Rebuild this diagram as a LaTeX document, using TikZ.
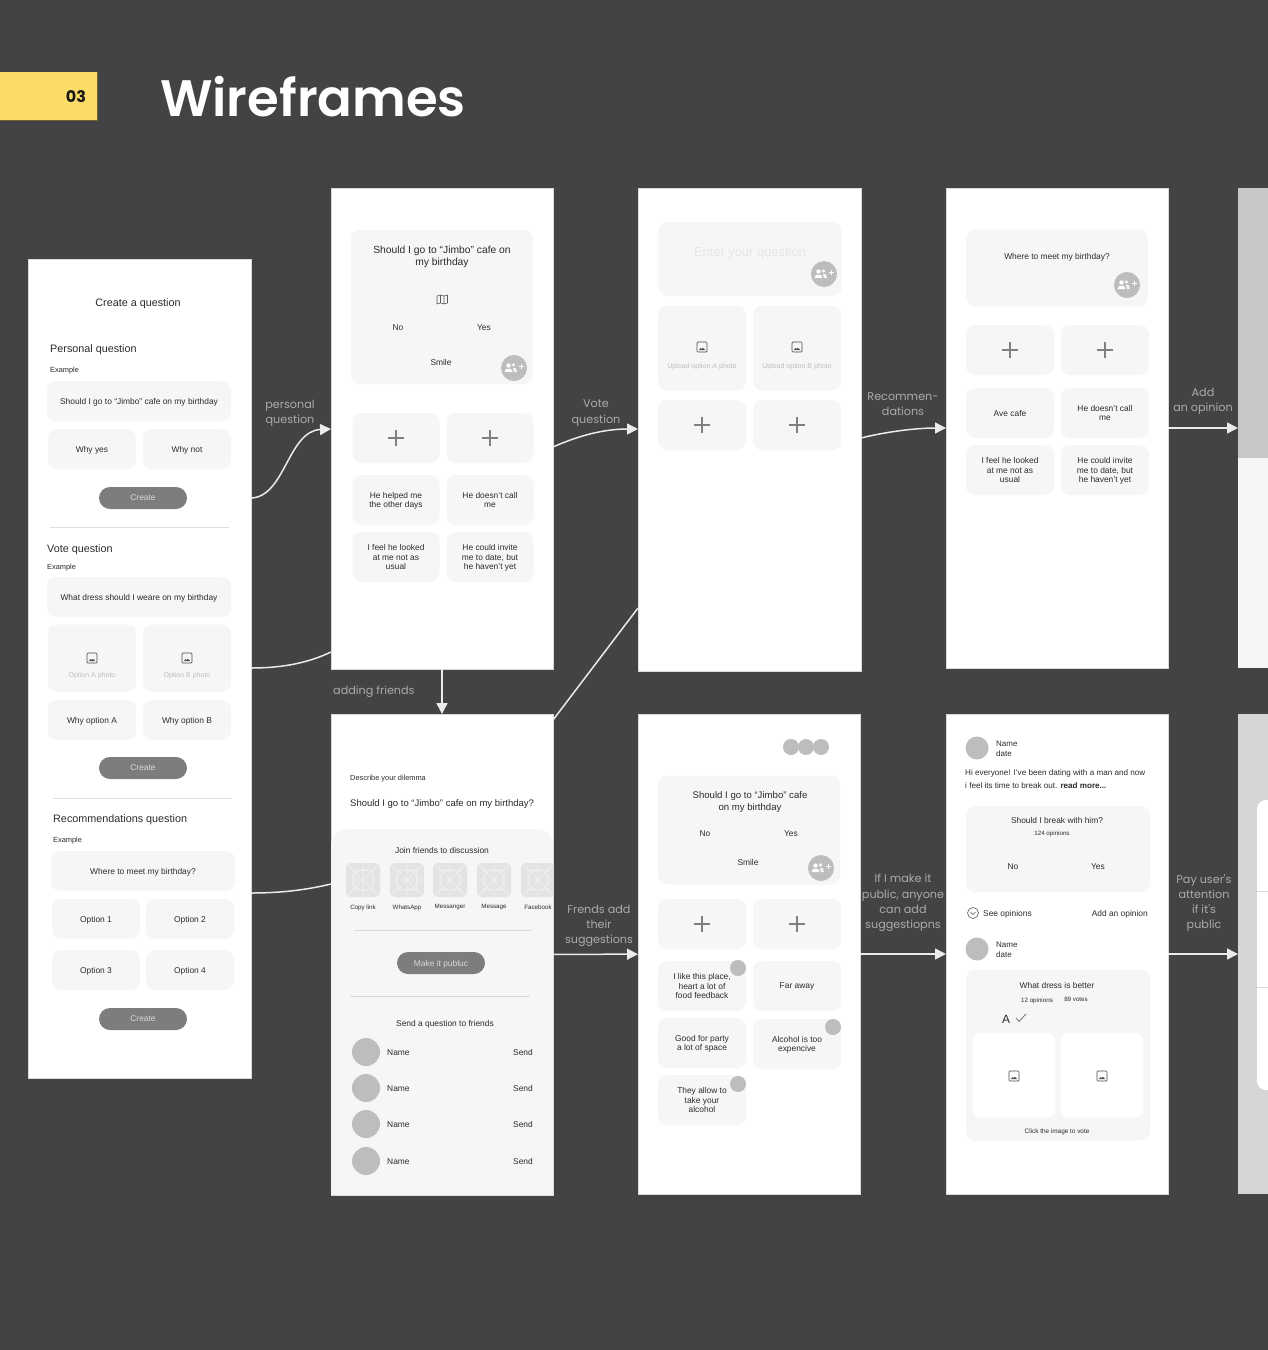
\documentclass[tikz,border=0pt]{standalone}
\usepackage{fontspec}
\usepackage{tikz}
\usetikzlibrary{arrows.meta}
\setmainfont{Liberation Sans}
\newfontfamily\labelfamily{Poppins}
\newfontfamily\titlefamily{Poppins SemiBold}
\definecolor{backdrop}{HTML}{434244}
\definecolor{panel}{HTML}{F6F5F8}
\definecolor{ink}{HTML}{2B2B2D}
\definecolor{marker}{HTML}{FBDC66}
\definecolor{avatar}{HTML}{BDBCBE}
\definecolor{buttonfill}{HTML}{7D7D7F}
\definecolor{faint}{HTML}{BDBDBF}
\definecolor{caption}{HTML}{ABABAD}
\definecolor{rule}{HTML}{E0E0E2}
\tikzset{
    screen/.style 2 args={fill=white, draw=black!15, line width=0.5pt, inner sep=0pt, outer sep=0pt, minimum width=#1, minimum height=#2, anchor=north west},
    uitxt/.style={inner sep=0pt, text=ink, align=center, text depth=0pt, yshift=-0.8pt},
    headtxt/.style={uitxt, font=\fontsize{10.8}{12.2}\selectfont},
    bodytxt/.style={uitxt, font=\fontsize{8.4}{9.5}\selectfont},
    smalltxt/.style={uitxt, font=\fontsize{7.4}{9}\selectfont},
    tinytxt/.style={uitxt, font=\fontsize{6.2}{7}\selectfont},
    faintxt/.style={uitxt, text=faint, font=\fontsize{7}{8}\selectfont},
    card/.style 2 args={inner sep=0pt, text=ink, align=center, text depth=0pt, font=\fontsize{8.4}{9.5}\selectfont, fill=panel, rounded corners=9pt, minimum width=#1, minimum height=#2},
    button/.style={inner sep=0pt, align=center, text depth=0pt, font=\fontsize{8.4}{9.5}\selectfont, text=white!85!black, fill=buttonfill, rounded corners=11pt, minimum width=88, minimum height=22},
    note/.style={inner sep=0pt, text=caption, align=center, yshift=-1pt, font=\labelfamily\fontsize{11.2}{15.2}\selectfont},
    divider/.style={rule, line width=1pt},
    flow/.style={white!92!black, line width=1.5pt},
    arrowed/.style={-{Triangle[length=11pt, width=11pt]}},
    dot/.style={fill=avatar, circle, inner sep=0pt, minimum size=#1},
    plussign/.pic={\draw[black!50, line width=1.1pt] (-8, 0) -- (8, 0) (0, -8) -- (0, 8);},
    imgicon/.pic={
        \draw[black!70, line width=0.7pt, rounded corners=1pt] (-5, -5) rectangle (5, 5);
        \fill[black!70] (-3, 3) -- (-1.5, 1) -- (-0.5, 2) -- (1, 0.8) -- (3, 3) -- cycle;
    },
    friendbtn/.pic={
        \fill[avatar] (0, 0) circle (13pt);
        \fill[white] (-5.5, -2.5) circle (2.2pt) (-9.5, 4) -- (-8, 0.8) -- (-3, 0.8) -- (-1.5, 4) -- cycle;
        \fill[white!85!avatar] (-0.5, -3) circle (1.8pt) (-1, 0.2) -- (2, 0.2) -- (3, 4) -- (0, 4) -- cycle;
        \draw[white, line width=1pt] (4.5, -1.5) -- (9.5, -1.5) (7, -4) -- (7, 1);
    },
    appicon/.pic={
        \fill[black!11, rounded corners=5pt] (-17, -17) rectangle (17, 17);
        \draw[black!5, line width=0.6pt] (-17, -17) -- (17, 17) (-17, 17) -- (17, -17) (-17, 0) -- (17, 0) (0, -17) -- (0, 17) (0, 0) circle (10pt) (-10, -10) rectangle (10, 10);
    }
}
\begin{document}
\begin{tikzpicture}[x=1pt, y=-1pt]
    \useasboundingbox (0, 0) rectangle (1268, 1350);
    \fill[backdrop] (0, 0) rectangle (1268, 1350);

    \node[fill=marker, minimum width=97, minimum height=48, inner sep=0pt, outer sep=0pt, anchor=west] (badge) at (0, 96) {};
    \draw[black!55!marker, line width=0.6pt] (badge.north east) -- (badge.south east) -- (badge.south west);
    \node[text=black!90, inner sep=0pt, font=\labelfamily\bfseries\fontsize{16}{18}\selectfont] (badgeNum) at (76, 97) {03};
    \node[text=white, inner sep=0pt, anchor=west, font=\titlefamily\fontsize{51.3}{56}\selectfont] (heading) at (160, 97) {Wireframes};

    \node[screen={223}{819}] (sCreate) at (28, 259) {};
    \node[screen={222}{481}] (sPersonal) at (331, 188) {};
    \node[screen={223}{483}] (sVote) at (638, 188) {};
    \node[screen={222}{480}] (sRecom) at (946, 188) {};
    \node[screen={30}{480}, fill=panel, draw=none] (sOpinion) at (1238, 188) {};
    \fill[black!22] (sOpinion.north west) rectangle (1268, 458);
    \node[screen={222}{481}] (sFriends) at (331, 714) {};
    \node[screen={222}{480}] (sSuggest) at (638, 714) {};
    \node[screen={222}{480}] (sPublic) at (946, 714) {};
    \node[screen={30}{480}, fill=black!16, draw=none] (sAttention) at (1238, 714) {};
    \fill[white, rounded corners=9pt] (1290, 800) -- (1257, 800) -- (1257, 1090) -- (1290, 1090);
    \draw[black!14, line width=0.6pt] (1257, 891) -- (1268, 891) (1257, 987) -- (1268, 987);

    % create a question
    \node[headtxt] (createTitle) at (138, 302) {Create a question};
    \foreach \x/\y/\t [count=\i] in {50/348/Personal question, 47/548/Vote question, 53/818/Recommendations question}
        \node[headtxt, anchor=west] (createHead\i) at (\x, \y) {\t};
    \foreach \x/\y [count=\i] in {50/369, 47/566, 53/839}
        \node[smalltxt, anchor=west] (createEx\i) at (\x, \y) {Example};
    \foreach \x/\y/\t [count=\i] in {139/401/{Should I go to “Jimbo” cafe on my birthday}, 139/597/What dress should I weare on my birthday, 143/871/Where to meet my birthday?}
        \node[card={184}{40}] (createWide\i) at (\x, \y) {\t};
    \foreach \x/\y/\t [count=\i] in {92/449/Why yes, 187/449/Why not, 92/720/Why option A, 187/720/Why option B, 96/919/Option 1, 190/919/Option 2, 96/970/Option 3, 190/970/Option 4}
        \node[card={88}{40}] (createOpt\i) at (\x, \y) {\t};
    \foreach \x/\t [count=\i] in {92/A, 187/B} {
        \node[card={88}{67}] (createPhoto\i) at (\x, 658) {};
        \pic at (\x, 658) {imgicon};
        \node[faintxt] (createPhotoTxt\i) at (\x, 674) {Option \t{} photo};
    }
    \foreach \y [count=\i] in {498, 768, 1019}
        \node[button] (createBtn\i) at (143, \y) {Create};
    \draw[divider] (50, 527) -- (229, 527);
    \draw[divider] (53, 798) -- (232, 798);

    % personal question
    \node[card={182}{154}] (personalCard) at (442, 307) {};
    \node[headtxt, font=\fontsize{10.3}{12.2}\selectfont] (personalAsk) at (442, 255) {Should I go to “Jimbo” cafe on\\my birthday};
    \draw[black!65, line width=0.6pt] (437, 296) -- (437, 304) -- (440.5, 303) -- (444, 304) -- (447.5, 303) -- (447.5, 295) -- (444, 296) -- (440.5, 295) -- cycle (440.5, 295) -- (440.5, 303) (444, 296) -- (444, 304);
    \foreach \x/\y/\t [count=\i] in {398/327/No, 484/327/Yes, 441/362/Smile}
        \node[bodytxt] (personalVote\i) at (\x, \y) {\t};
    \pic at (514, 368) {friendbtn};
    \foreach \x/\y/\t [count=\i] in {396/438/{}, 490/438/{}, 396/500/{He helped me\\the other days}, 490/500/{He doesn't call\\me}, 396/557/{I feel he looked\\at me not as\\usual}, 490/557/{He could invite\\me to date, but\\he haven't yet}}
        \node[card={87}{50}] (personalOpt\i) at (\x, \y) {\t};
    \pic at (396, 438) {plussign};
    \pic at (490, 438) {plussign};

    % vote question
    \node[card={183}{74}] (voteCard) at (750, 259) {};
    \node[inner sep=0pt, text=black!10, font=\fontsize{12.9}{14}\selectfont] (voteAsk) at (750, 253) {Enter your question};
    \pic at (824, 274) {friendbtn};
    \foreach \x/\t [count=\i] in {702/A, 797/B} {
        \node[card={88}{85}] (votePhoto\i) at (\x, 348) {};
        \pic at (\x, 347) {imgicon};
        \node[faintxt] (votePhotoTxt\i) at (\x, 365) {Upload option \t{} photo};
        \node[card={88}{50}] (votePlus\i) at (\x, 425) {};
        \pic at (\x, 425) {plussign};
    }

    % recommendations
    \node[card={182}{77}] (recomCard) at (1057, 268) {};
    \node[bodytxt] (recomAsk) at (1057, 256) {Where to meet my birthday?};
    \pic at (1127, 285) {friendbtn};
    \foreach \x/\y/\t [count=\i] in {1010/350/{}, 1105/350/{}, 1010/413/Ave cafe, 1105/413/{He doesn't call\\me}, 1010/470/{I feel he looked\\at me not as\\usual}, 1105/470/{He could invite\\me to date, but\\he haven't yet}}
        \node[card={88}{50}] (recomOpt\i) at (\x, \y) {\t};
    \pic at (1010, 350) {plussign};
    \pic at (1105, 350) {plussign};

    % adding friends
    \node[smalltxt, anchor=west] (friendsHint) at (350, 777) {Describe your dilemma};
    \node[headtxt, font=\fontsize{9.5}{12}\selectfont, anchor=west] (friendsAsk) at (350, 802) {Should I go to “Jimbo” cafe on my birthday?};
    \fill[panel, rounded corners=16pt] (sFriends.south west) -- (331, 829) -- (553, 829) -- (sFriends.south east);
    \node[bodytxt] (friendsJoin) at (442, 850) {Join friends to discussion};
    \begin{scope}
        \clip (sFriends.south west) rectangle (sFriends.north east);
        \foreach \x in {363, 407, 450, 494, 538}
            \pic at (\x, 880) {appicon};
    \end{scope}
    \foreach \x/\t [count=\i] in {363/Copy link, 407/WhatsApp, 450/Messanger, 494/Message, 538/Facebook}
        \node[tinytxt] (friendsApp\i) at (\x, 906) {\t};
    \draw[black!15, line width=0.7pt] (354, 930) -- (531, 930);
    \node[button] (friendsBtn) at (441, 963) {Make it publuc};
    \draw[black!15, line width=0.7pt] (350, 996) -- (530, 996);
    \node[bodytxt] (friendsSend) at (445, 1023) {Send a question to friends};
    \foreach \y [count=\i] in {1052, 1088, 1124, 1161} {
        \node[dot=28] (friendsFace\i) at (366, \y) {};
        \node[bodytxt, anchor=west] (friendsName\i) at (387, \y) {Name};
        \node[bodytxt, anchor=east] (friendsAct\i) at (533, \y) {Send};
    }

    % suggestions
    \foreach \x [count=\i] in {791, 806, 821}
        \node[dot=16] (suggestFace\i) at (\x, 747) {};
    \node[card={182}{109}] (suggestCard) at (749, 830) {};
    \node[headtxt, font=\fontsize{9.6}{11.5}\selectfont] (suggestAsk) at (750, 800) {Should I go to “Jimbo” cafe\\on my birthday};
    \foreach \x/\y/\t [count=\i] in {705/833/No, 791/833/Yes, 748/862/Smile}
        \node[bodytxt] (suggestVote\i) at (\x, \y) {\t};
    \pic at (821, 868) {friendbtn};
    \foreach \x/\y/\t [count=\i] in {702/924/{}, 797/924/{}, 702/986/{I like this place,\\heart a lot of\\food feedback}, 797/986/Far away, 702/1043/{Good for party\\a lot of space}, 797/1044/{Alcohol is too\\expencive}, 702/1100/{They allow to\\take your\\alcohol}}
        \node[card={88}{50}] (suggestOpt\i) at (\x, \y) {\t};
    \pic at (702, 924) {plussign};
    \pic at (797, 924) {plussign};
    \foreach \x/\y [count=\i] in {738/968, 833/1027, 738/1084}
        \node[dot=16] (suggestDot\i) at (\x, \y) {};

    % public feed
    \foreach \y [count=\i] in {748, 949} {
        \node[dot=23] (publicFace\i) at (977, \y) {};
        \node[smalltxt, font=\fontsize{8}{9.6}\selectfont, align=left, anchor=west] (publicWho\i) at (996, \y) {Name\\date};
    }
    \node[smalltxt, font=\fontsize{8.1}{13}\selectfont, align=left, anchor=west] (publicPost) at (965, 778) {Hi everyone! I've been dating with a man and now\\i feel its time to break out. \textbf{read more...}};
    \node[card={184}{86}] (publicCardA) at (1058, 849) {};
    \node[bodytxt] (publicAsk) at (1057, 820) {Should I break with him?};
    \node[tinytxt] (publicCount) at (1052, 832) {124 opinions};
    \node[bodytxt] (publicNo) at (1013, 866) {No};
    \node[bodytxt] (publicYes) at (1098, 866) {Yes};
    \node[draw=black!65, circle, line width=0.6pt, minimum size=11, inner sep=0pt] (publicMore) at (973, 913) {};
    \draw[black!65, line width=0.6pt] (970.5, 912) -- (973, 914.5) -- (975.5, 912);
    \node[bodytxt, anchor=west] (publicSee) at (983, 913) {See opinions};
    \node[bodytxt, anchor=east] (publicAdd) at (1148, 913) {Add an opinion};
    \node[card={184}{171}] (publicCardB) at (1058, 1055) {};
    \node[bodytxt] (publicDress) at (1057, 985) {What dress is better};
    \node[tinytxt] (publicOpin) at (1037, 999) {12 opinions};
    \node[tinytxt] (publicVotes) at (1076, 999) {89 votes};
    \node[inner sep=0pt, text=ink, font=\fontsize{12}{14}\selectfont] (publicPick) at (1006, 1019) {A};
    \draw[black!60, line width=0.7pt] (1016, 1018) -- (1019, 1021.5) -- (1026, 1014);
    \foreach \x [count=\i] in {1014, 1102} {
        \node[card={83}{85}, fill=white] (publicImg\i) at (\x, 1075) {};
        \pic at (\x, 1076) {imgicon};
    }
    \node[tinytxt, font=\fontsize{6.4}{8}\selectfont] (publicClick) at (1057, 1130) {Click the image to vote};

    % captions between the screens
    \node[note] (notePersonal) at (290, 412) {personal\\question};
    \node[note] (noteVote) at (596, 412) {Vote\\question};
    \node[note] (noteRecom) at (903, 403) {Recommen-\\dations};
    \node[note] (noteOpinion) at (1203, 400) {Add\\an opinion};
    \node[note, anchor=west] (noteFriends) at (333, 691) {adding friends};
    \node[note] (noteSuggest) at (599, 925) {Frends add\\their\\suggestions};
    \node[note] (notePublic) at (903, 902) {If I make it\\public, anyone\\can add\\suggestiopns};
    \node[note] (noteAttention) at (1204, 902) {Pay user's\\attention\\if it's\\public};

    % connectors
    \coordinate (inPersonal) at (331, 429);
    \coordinate (inVote) at (638, 429);
    \coordinate (inRecom) at (946, 428);
    \coordinate (joinA) at (331, 652);
    \coordinate (joinB) at (331, 884);
    \draw[flow, arrowed] (createBtn1 -| sCreate.east) .. controls (285, 497) and (288, 431) .. (inPersonal);
    \draw[flow] (sCreate.east |- 0, 668) .. controls (285, 668) and (310, 662) .. (joinA);
    \draw[flow] (sCreate.east |- 0, 893) .. controls (285, 893) and (310, 889) .. (joinB);
    \draw[flow, arrowed] (sPersonal.east |- 0, 447) .. controls (580, 435) and (605, 429) .. (inVote);
    \draw[flow, arrowed] (sVote.east |- 0, 438) .. controls (885, 432) and (915, 428) .. (inRecom);
    \draw[flow, arrowed] (sRecom) -- (sOpinion);
    \draw[flow, arrowed] (sPersonal) -- (sFriends);
    \draw[flow] (sFriends.north east) ++(0, 6) -- (sVote.west |- 0, 608);
    \draw[flow, arrowed] (sFriends) -- (sSuggest);
    \draw[flow, arrowed] (sSuggest) -- (sPublic);
    \draw[flow, arrowed] (sPublic) -- (sAttention);
\end{tikzpicture}
\end{document}
